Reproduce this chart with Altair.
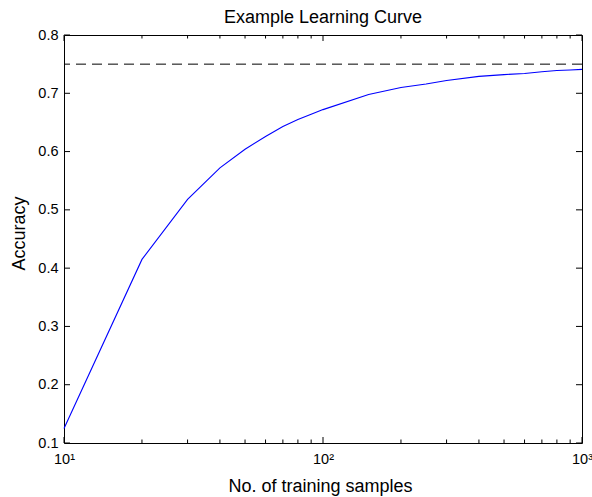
import altair as alt
import pandas as pd

# Learning curve samples (training set size vs. accuracy)
n_samples = [10, 20, 30, 40, 50, 60, 70, 80, 90, 100,
             150, 200, 250, 300, 400, 500, 600, 700, 800, 900, 1000]
accuracy = [0.125, 0.415, 0.518, 0.572, 0.604, 0.626, 0.643, 0.655, 0.664, 0.672,
            0.698, 0.710, 0.716, 0.722, 0.729, 0.732, 0.734, 0.737, 0.739, 0.740, 0.741]

# Asymptotic accuracy reference level
target_level = [0.75]

# Tick positions
x_major = [10, 100, 1000]
x_minor = [20, 30, 40, 50, 60, 70, 80, 90, 200, 300, 400, 500, 600, 700, 800, 900]
y_ticks = [0.1, 0.2, 0.3, 0.4, 0.5, 0.6, 0.7, 0.8]

W, H = 518, 408
FONT = "Liberation Sans"
MAJOR, MINOR = 6, 3.5

xscale = alt.Scale(type="log", domain=[10, 1000], nice=False)
yscale = alt.Scale(domain=[0.1, 0.8], nice=False, zero=False)

# Shared axis definitions so every layer merges into the same guides
xaxis = alt.Axis(
    values=x_major,
    labelExpr="'10' + (datum.value == 10 ? '¹' : datum.value == 100 ? '²' : '³')",
    ticks=False, domain=False, grid=False,
    labelFont=FONT, labelFontSize=14.5, labelColor="black", labelPadding=9,
    labelFlush=False,
    title="No. of training samples", titleFont=FONT, titleFontSize=18,
    titleFontWeight="normal", titleColor="black",
    titleX=W / 2 - 3, titleY=48, titleAlign="center", titleBaseline="alphabetic",
)
yaxis = alt.Axis(
    values=y_ticks, format=".1f",
    ticks=False, domain=False, grid=False,
    labelFont=FONT, labelFontSize=14.5, labelColor="black", labelPadding=6,
    labelFlush=False,
    title="Accuracy", titleFont=FONT, titleFontSize=18,
    titleFontWeight="normal", titleColor="black",
    titleX=-40, titleY=H / 2 - 6, titleAlign="center", titleBaseline="alphabetic",
    titleAngle=270,
)

curve = pd.DataFrame({"n": n_samples, "acc": accuracy})

line = alt.Chart(curve).mark_line(color="#0000FF", strokeWidth=1.1).encode(
    x=alt.X("n:Q", scale=xscale, axis=xaxis),
    y=alt.Y("acc:Q", scale=yscale, axis=yaxis),
)

target = alt.Chart(pd.DataFrame({"t": target_level})).mark_rule(
    color="black", strokeWidth=1, strokeDash=[10, 6]
).encode(y=alt.Y("t:Q", scale=yscale, axis=yaxis))


def xticks(values, length, top):
    df = pd.DataFrame({"n": values})
    if top:
        yy, yy2 = 0, length
    else:
        yy, yy2 = H, H - length
    return alt.Chart(df).mark_rule(color="black", strokeWidth=1).encode(
        x=alt.X("n:Q", scale=xscale, axis=xaxis),
        y=alt.value(yy), y2=alt.value(yy2),
    )


def yticks(values, length, right):
    df = pd.DataFrame({"acc": values})
    if right:
        xx, xx2 = W, W - length
    else:
        xx, xx2 = 0, length
    return alt.Chart(df).mark_rule(color="black", strokeWidth=1).encode(
        y=alt.Y("acc:Q", scale=yscale, axis=yaxis),
        x=alt.value(xx), x2=alt.value(xx2),
    )


chart = alt.layer(
    line,
    target,
    xticks(x_major, MAJOR, False), xticks(x_minor, MINOR, False),
    xticks(x_major, MAJOR, True), xticks(x_minor, MINOR, True),
    yticks(y_ticks, MAJOR, False), yticks(y_ticks, MAJOR, True),
).properties(
    width=W, height=H,
    title=alt.TitleParams("Example Learning Curve", font=FONT, fontSize=18,
                          fontWeight="normal", color="black", anchor="middle",
                          offset=0),
    autosize=alt.AutoSizeParams(type="none"),
    padding={"left": 64, "top": 35, "right": 10, "bottom": 54},
    background="white",
).configure_view(stroke="black", strokeWidth=1)

chart.save("out.html", embed_options={"renderer": "svg", "actions": False})
